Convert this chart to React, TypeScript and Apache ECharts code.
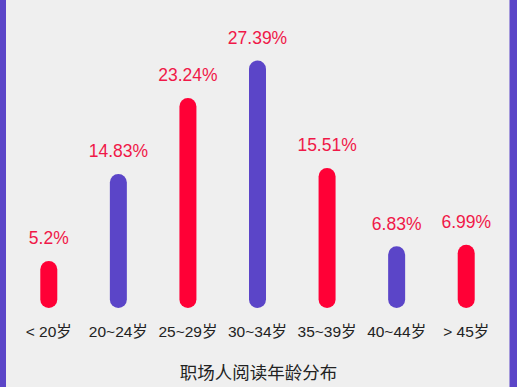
import React, { useEffect, useRef } from "react";
import * as echarts from "echarts";

const categories = ["< 20岁", "20~24岁", "25~29岁", "30~34岁", "35~39岁", "40~44岁", "> 45岁"];
const shares = [5.2, 14.83, 23.24, 27.39, 15.51, 6.83, 6.99];
const shareLabels = ["5.2%", "14.83%", "23.24%", "27.39%", "15.51%", "6.83%", "6.99%"];
const chartTitle = "职场人阅读年龄分布";

const RED = "#ff0036";
const PURPLE = "#5b45c8";
const FONT = "'Liberation Sans', 'Noto Sans CJK SC', sans-serif";

export default function App() {
  const ref = useRef<HTMLDivElement>(null);
  useEffect(() => {
    if (!ref.current) return;
    const chart = echarts.init(ref.current, null, { renderer: "svg" });
    chart.setOption({
      animation: false,
      backgroundColor: "#efefef",
      textStyle: { fontFamily: FONT },
      title: {
        text: chartTitle,
        left: "center",
        top: 359,
        textStyle: { fontSize: 17.5, fontWeight: "normal", color: "#222222", fontFamily: FONT },
      },
      grid: { left: 14, right: 16, top: 37, bottom: 79, containLabel: false },
      xAxis: {
        type: "category",
        data: categories,
        axisLine: { show: false },
        axisTick: { show: false },
        axisLabel: { color: "#222222", fontSize: 15.5, margin: 16, fontFamily: FONT, interval: 0 },
      },
      yAxis: {
        type: "value",
        min: 0,
        max: 30,
        show: false,
        splitLine: { show: false },
      },
      series: [
        {
          type: "bar",
          barWidth: 17,
          data: shares.map((v, i) => ({
            value: v,
            itemStyle: { color: i % 2 === 0 ? RED : PURPLE, borderRadius: 8.5 },
          })),
          label: {
            show: true,
            position: "top",
            distance: 14,
            fontSize: 17.5,
            color: "#f01848",
            fontFamily: FONT,
            formatter: (p: any) => shareLabels[p.dataIndex],
          },
        },
      ],
      graphic: [
        { type: "rect", left: 0, top: 0, shape: { x: 0, y: 0, width: 6, height: 387 }, style: { fill: PURPLE } },
        { type: "rect", right: 0, top: 0, shape: { x: 0, y: 0, width: 7.5, height: 387 }, style: { fill: PURPLE } },
      ],
    });
    return () => chart.dispose();
  }, []);
  return <div ref={ref} style={{ position: "absolute", left: 0, top: 0, width: 517, height: 387 }} />;
}
